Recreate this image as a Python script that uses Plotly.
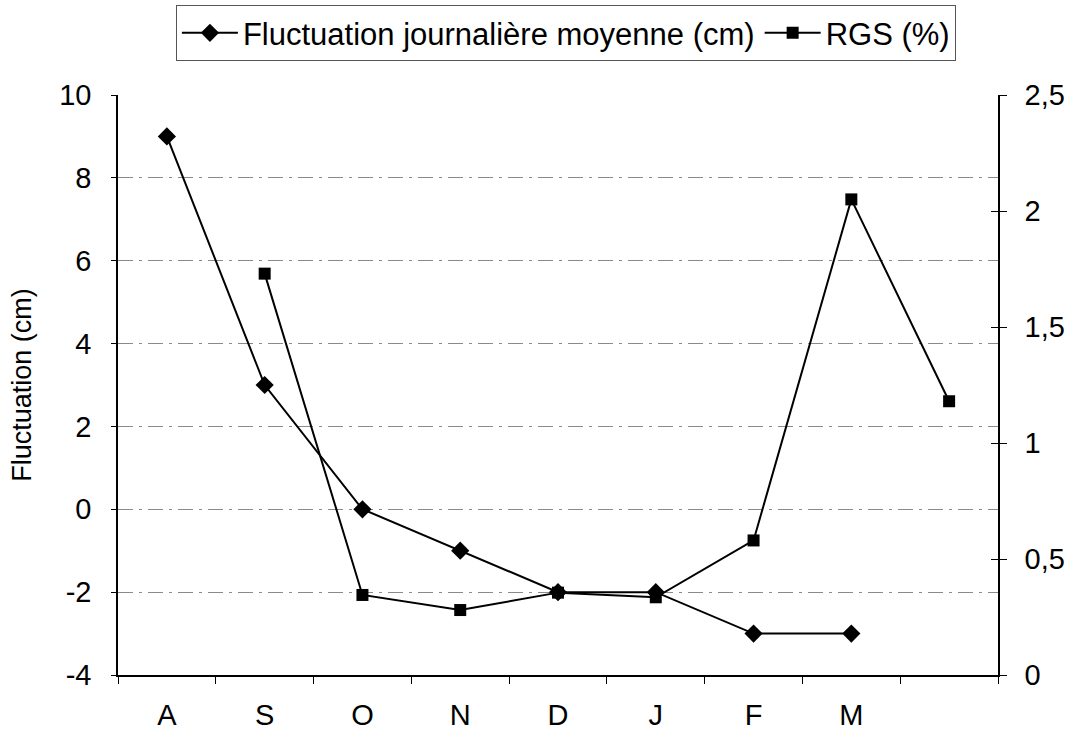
import plotly.graph_objects as go

# Monthly categories (the last slot has no label)
months = ["A", "S", "O", "N", "D", "J", "F", "M", " "]

# Mean daily fluctuation (cm), left axis
fluctuation = [9, 3, 0, -1, -2, -2, -3, -3, None]

# RGS (%), right axis
rgs = [None, 1.73, 0.345, 0.28, 0.355, 0.335, 0.58, 2.05, 1.18]

left_ticks = [-4, -2, 0, 2, 4, 6, 8, 10]
left_labels = ["-4", "-2", "0", "2", "4", "6", "8", "10"]
right_ticks = [0, 0.5, 1, 1.5, 2, 2.5]
right_labels = ["0", "0,5", "1", "1,5", "2", "2,5"]

FONT = "Liberation Sans, Arial, sans-serif"

fig = go.Figure()

fig.add_trace(go.Scatter(
    x=months, y=fluctuation, name="Fluctuation journalière moyenne (cm)",
    mode="lines+markers", yaxis="y",
    line=dict(color="black", width=2),
    marker=dict(symbol="diamond", size=14, color="black"),
    connectgaps=False,
))
fig.add_trace(go.Scatter(
    x=months, y=rgs, name="RGS (%)",
    mode="lines+markers", yaxis="y2",
    line=dict(color="black", width=2),
    marker=dict(symbol="square", size=12, color="black"),
    connectgaps=False,
))

fig.update_layout(
    width=1072, height=744,
    margin=dict(l=118, r=74, t=95, b=69, autoexpand=False),
    paper_bgcolor="white", plot_bgcolor="white",
    font=dict(family=FONT, size=29, color="black"),
    showlegend=True,
    legend=dict(
        orientation="h", x=0.509, xanchor="center",
        yref="container", y=0.993, yanchor="top",
        bordercolor="#555", borderwidth=1, bgcolor="white",
        font=dict(family=FONT, size=31, color="black"),
        itemwidth=56, tracegroupgap=0,
    ),
    xaxis=dict(
        type="category", categoryorder="array", categoryarray=months,
        range=[-0.5, 8.5],
        tickson="boundaries", ticks="outside", ticklen=7, tickcolor="black",
        showline=True, linecolor="black", linewidth=1.5,
        showgrid=False, zeroline=False,
        tickfont=dict(family=FONT, size=29),
        ticklabelstandoff=13,
    ),
    yaxis=dict(
        range=[-4, 10], tickvals=left_ticks, ticktext=left_labels,
        ticks="outside", ticklen=5, tickcolor="black",
        showline=True, linecolor="black", linewidth=1.5,
        showgrid=True, gridcolor="#8a8a8a", gridwidth=1, griddash="longdashdot",
        zeroline=False,
        tickfont=dict(family=FONT, size=29),
        ticklabelstandoff=14,
        title=dict(text="Fluctuation (cm)", font=dict(family=FONT, size=27), standoff=20),
    ),
    yaxis2=dict(
        range=[0, 2.5], tickvals=right_ticks, ticktext=right_labels,
        overlaying="y", side="right", anchor="x",
        ticks="outside", ticklen=7, tickcolor="black",
        showline=True, linecolor="black", linewidth=1.5,
        showgrid=False, zeroline=False,
        tickfont=dict(family=FONT, size=29),
        ticklabelstandoff=12,
    ),
    # inward half of the crossing ticks on the right axis
    yaxis3=dict(
        range=[0, 2.5], tickvals=right_ticks,
        overlaying="y", side="right", anchor="x",
        ticks="inside", ticklen=7, tickcolor="black",
        showticklabels=False, showline=False, showgrid=False, zeroline=False,
    ),
)

# invisible trace so the inner-tick axis is drawn
fig.add_trace(go.Scatter(x=[months[0]], y=[0], yaxis="y3", showlegend=False,
                         mode="markers", marker=dict(opacity=0), hoverinfo="skip"))

fig.write_html("out.html")
